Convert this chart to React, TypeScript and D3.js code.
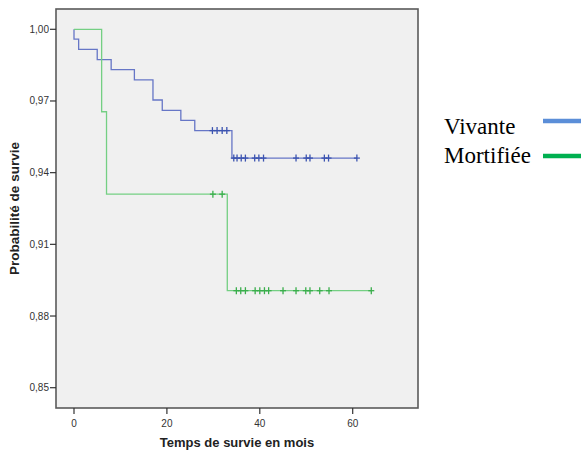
import React from "react";
import * as d3 from "d3";

const blueEventTimes = [0, 1, 5, 8, 13, 17, 19, 23, 26, 34];
const blueSurvival = [0.9959, 0.9916, 0.9873, 0.9831, 0.9788, 0.9704, 0.9661, 0.9619, 0.9576, 0.9461];
const blueCensorTimes = [29.8, 30.8, 31.9, 32.9, 34.4, 35.1, 36.0, 36.9, 38.9, 39.8, 40.8, 47.8, 50.0, 50.8, 53.9, 54.8, 60.9];

const greenEventTimes = [5.95, 7, 33];
const greenSurvival = [0.9655, 0.931, 0.8906];
const greenCensorTimes = [29.9, 31.9, 34.95, 35.9, 36.9, 39.0, 40.0, 41.0, 41.9, 45.0, 47.8, 49.9, 50.8, 52.9, 54.9, 64.0];

const xTicks = [0, 20, 40, 60];
const yTicks = [0.85, 0.88, 0.91, 0.94, 0.97, 1.0];
const legendLabels = ["Vivante", "Mortifiée"];

const W = 581;
const H = 452;
const frame = { x0: 56, y0: 9, x1: 418, y1: 408 };

const x = d3.scaleLinear().domain([0, 60]).range([74, 352.7]);
const y = d3.scaleLinear().domain([0.85, 1.0]).range([387.7, 29.3]);

function survAt(times: number[], surv: number[], t: number) {
  let s = 1;
  for (let i = 0; i < times.length; i++) if (times[i] <= t) s = surv[i];
  return s;
}

function stepPath(times: number[], surv: number[], censors: number[]) {
  const end = Math.max(times[times.length - 1], d3.max(censors) as number);
  const pts: [number, number][] = [[0, 1]];
  times.forEach((t, i) => pts.push([t, surv[i]]));
  pts.push([end, surv[surv.length - 1]]);
  return d3
    .line<[number, number]>()
    .x((d) => x(d[0]))
    .y((d) => y(d[1]))
    .curve(d3.curveStepAfter)(pts) as string;
}

const fmt = (v: number) => v.toFixed(2).replace(".", ",");

const series = [
  { times: blueEventTimes, surv: blueSurvival, cens: blueCensorTimes, line: "#6676c6", mark: "#3c54b0" },
  { times: greenEventTimes, surv: greenSurvival, cens: greenCensorTimes, line: "#74cf83", mark: "#3aae4c" },
];

const legendColors = ["#5b8ed8", "#00b050"];

export default function App() {
  const axisFont = "Liberation Sans, Arial, sans-serif";
  return (
    <svg width={W} height={H} style={{ position: "absolute", left: 0, top: 0, background: "#fff" }}>
      <rect x={frame.x0} y={frame.y0} width={frame.x1 - frame.x0} height={frame.y1 - frame.y0} fill="#f0f0f0" stroke="none" />
      {series.map((s, i) => (
        <g key={i}>
          <path d={stepPath(s.times, s.surv, s.cens)} fill="none" stroke={s.line} strokeWidth={1.3} />
          {s.cens.map((t, j) => {
            const cx = x(t);
            const cy = y(survAt(s.times, s.surv, t));
            return (
              <g key={j} stroke={s.mark} strokeWidth={1.3}>
                <line x1={cx} x2={cx} y1={cy - 3.5} y2={cy + 3.5} />
                <line x1={cx - 3} x2={cx + 3} y1={cy} y2={cy} />
              </g>
            );
          })}
        </g>
      ))}
      <rect x={frame.x0} y={frame.y0} width={frame.x1 - frame.x0} height={frame.y1 - frame.y0} fill="none" stroke="#5a5a5a" strokeWidth={1.6} />
      {yTicks.map((v) => (
        <g key={v}>
          <line x1={frame.x0 - 6} x2={frame.x0} y1={y(v)} y2={y(v)} stroke="#333" strokeWidth={1.2} />
          <text x={frame.x0 - 7} y={y(v)} dy="0.35em" textAnchor="end" fontSize={10} fontFamily={axisFont} fill="#333">
            {fmt(v)}
          </text>
        </g>
      ))}
      {xTicks.map((v) => (
        <g key={v}>
          <line x1={x(v)} x2={x(v)} y1={frame.y1} y2={frame.y1 + 6} stroke="#333" strokeWidth={1.2} />
          <text x={x(v)} y={427} textAnchor="middle" fontSize={10} fontFamily={axisFont} fill="#333">
            {v}
          </text>
        </g>
      ))}
      <text x={(frame.x0 + frame.x1) / 2} y={447} textAnchor="middle" fontSize={13} fontWeight="bold" fontFamily={axisFont} fill="#222">
        Temps de survie en mois
      </text>
      <text
        transform={`translate(19,${(frame.y0 + frame.y1) / 2}) rotate(-90)`}
        textAnchor="middle"
        fontSize={13.5}
        fontWeight="bold"
        fontFamily={axisFont}
        fill="#222"
      >
        Probabilité de survie
      </text>
      {legendLabels.map((l, i) => (
        <g key={l}>
          <text x={444} y={134 + i * 29} fontSize={23} fontFamily="Liberation Serif, Times New Roman, serif" fill="#000">
            {l}
          </text>
          <line x1={543} x2={581} y1={121 + i * 35} y2={121 + i * 35} stroke={legendColors[i]} strokeWidth={4.5} />
        </g>
      ))}
    </svg>
  );
}
